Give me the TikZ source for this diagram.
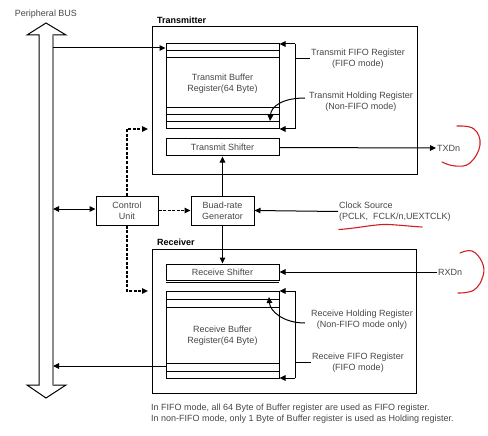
\documentclass[tikz,border=0pt]{standalone}
\usepackage{fontspec}
\setmainfont{Liberation Sans}
\usetikzlibrary{arrows.meta,calc}
\definecolor{txtgrey}{RGB}{70,70,70}
\definecolor{busgrey}{RGB}{140,140,140}
\definecolor{markred}{RGB}{210,30,35}
\begin{document}
\begin{tikzpicture}[x=1pt,y=-1pt,
  box/.style={draw, line width=1pt, inner sep=0pt},
  lbl/.style={text=txtgrey, font=\fontsize{9}{11}\selectfont, inner sep=1pt, align=center},
  ttl/.style={font=\bfseries\fontsize{9}{11}\selectfont, inner sep=0pt, anchor=west},
  ln/.style={line width=1pt},
  arr/.style={line width=1pt, -{Triangle[length=6pt,width=5.5pt]}},
  arrboth/.style={line width=1pt, {Triangle[length=6pt,width=5.5pt]}-{Triangle[length=6pt,width=5.5pt]}},
  dasharr/.style={line width=1.5pt, dash pattern=on 3pt off 1.5pt, -{Triangle[length=6pt,width=5.5pt]}},
  redmark/.style={draw=markred, line width=1.1pt, line cap=round}
]
\useasboundingbox (0,0) rectangle (488,436);

% Peripheral bus
\node[lbl] (bustitle) at (46,14) {Peripheral BUS};
\draw[ln, fill=white] (39,385) -- (39,35) -- (27,35) -- (46,23) -- (66,35) -- (53,35)
  -- (53,385) -- (66,385) -- (46,398) -- (27,385) -- cycle;
\draw[busgrey, line width=2pt] (53,35.5) -- (53,384.5);

% Transmitter
\node[ttl] (txtitle) at (157,20) {Transmitter};
\node[box, minimum width=265pt, minimum height=147pt] (tx) at (284.5,100.5) {};
\node[box, minimum width=113pt, minimum height=85pt] (tb) at (222.5,86.5) {};
\foreach \yy in {51,58,108,115,122} \draw[ln] (166,\yy) -- (279,\yy);
\node[lbl] (tbtext) at (222.5,84) {Transmit Buffer\\Register(64 Byte)};
\node[box, minimum width=113pt, minimum height=17pt] (ts) at (222.5,147.5) {};
\node[lbl] (tstext) at (222.5,147.5) {Transmit Shifter};

% Transmit FIFO bracket
\node[lbl] (tff) at (358,58.5) {Transmit FIFO Register\\(FIFO mode)};
\coordinate (tfT) at (295,44);
\coordinate (tfB) at (295,129);
\draw[ln] (tfT) -- (tfB);
\draw[arr] (tfT) -- (tfT -| tb.east);
\draw[arr] (tfB) -- (tfB -| tb.east);
\draw[ln] (tfT |- tff.west) -- (tff.west);

% Transmit holding register
\node[lbl] (thr) at (361,101.5) {Transmit Holding Register\\(Non-FIFO mode)};
\coordinate (thrS) at (305,98);
\coordinate (thrE) at (270,121);
\draw[arr] (thrS) .. controls (283,98) and (271,106) .. (thrE);

% Receiver
\node[ttl] (rxtitle) at (157,242) {Receiver};
\node[box, minimum width=264pt, minimum height=144pt] (rx) at (284,321) {};
\node[box, minimum width=113pt, minimum height=16pt] (rs) at (222.5,272) {};
\draw[ln] (166,282) -- (279,282);
\node[lbl] (rstext) at (222.5,272) {Receive Shifter};
\node[box, minimum width=113pt, minimum height=87pt] (rb) at (222.5,334.5) {};
\foreach \yy in {299,307,363,371} \draw[ln] (166,\yy) -- (279,\yy);
\node[lbl] (rbtext) at (222.5,336) {Receive Buffer\\Register(64 Byte)};

% Receive holding register
\node[lbl] (rhr) at (362,320) {Receive Holding Register\\(Non-FIFO mode only)};
\coordinate (rhrS) at (305,323);
\coordinate (rhrE) at (269,297);
\draw[arr] (rhrS) .. controls (283,323) and (270,311) .. (rhrE);

% Receive FIFO bracket
\node[lbl] (rff) at (358,362.5) {Receive FIFO Register\\(FIFO mode)};
\coordinate (rfT) at (295,291);
\coordinate (rfB) at (295,378);
\draw[ln] (rfT) -- (rfB);
\draw[arr] (rfT) -- (rfT -| rb.east);
\draw[arr] (rfB) -- (rfB -| rb.east);
\draw[ln] (rfT |- rff.west) -- (rff.west);

% Control unit and baud-rate generator
\node[box, minimum width=62pt, minimum height=29pt] (cu) at (127,210.5) {};
\node[lbl] (cutext) at (127,210.5) {Control\\Unit};
\node[box, minimum width=63pt, minimum height=29pt] (bg) at (222.5,210.5) {};
\node[lbl] (bgtext) at (222.5,210.5) {Buad-rate\\Generator};

\node[lbl, anchor=west, align=left] (clk) at (338,211.5) {Clock Source\\(PCLK,\ \ FCLK/n,UEXTCLK)};
\draw[arr] (clk.west) -- (bg.east);

% bus connections
\coordinate (bT) at (53,48);
\draw[arr] (bT) -- (bT -| tb.west);
\coordinate (bR) at (53,366);
\draw[arr] (bR -| rb.west) -- (bR);
\coordinate (bC) at (53,209);
\draw[arrboth] (bC) -- (bC -| cu.west);

% control signals
\draw[dasharr] (cu.east) -- (bg.west);
\coordinate (dT) at (148,129);
\coordinate (dR) at (148,291);
\draw[dasharr] (cu.north) |- (dT);
\draw[dasharr] (cu.south) |- (dR);

% clocks
\draw[arr] (bg.north) -- (ts.south);
\draw[arr] (bg.south) -- (rs.north);

% serial lines
\node[lbl, anchor=west] (txd) at (436,148) {TXDn};
\draw[arr] (ts.east) -- (txd.west);
\node[lbl, anchor=west] (rxd) at (437,272) {RXDn};
\draw[arr] (rxd.west) -- (rs.east);

% notes
\node[lbl, anchor=west, align=left] (note) at (150,413.5) {In FIFO mode, all 64 Byte of Buffer register are used as FIFO register.\\In non-FIFO mode, only 1 Byte of Buffer register is used as Holding register.};

% red hand marks
\draw[redmark] plot[smooth, tension=0.7] coordinates {(457,126) (474,129) (480,145) (470,163) (455,166) (442,162)};
\draw[redmark] plot[smooth, tension=0.7] coordinates {(460,253) (472,251) (482,262) (483,276) (474,290) (458,293)};
\draw[redmark] (339,229.5) .. controls (360,228) and (375,224) .. (388,224.5) .. controls (400,225) and (412,226.5) .. (422,227);
\end{tikzpicture}
\end{document}
